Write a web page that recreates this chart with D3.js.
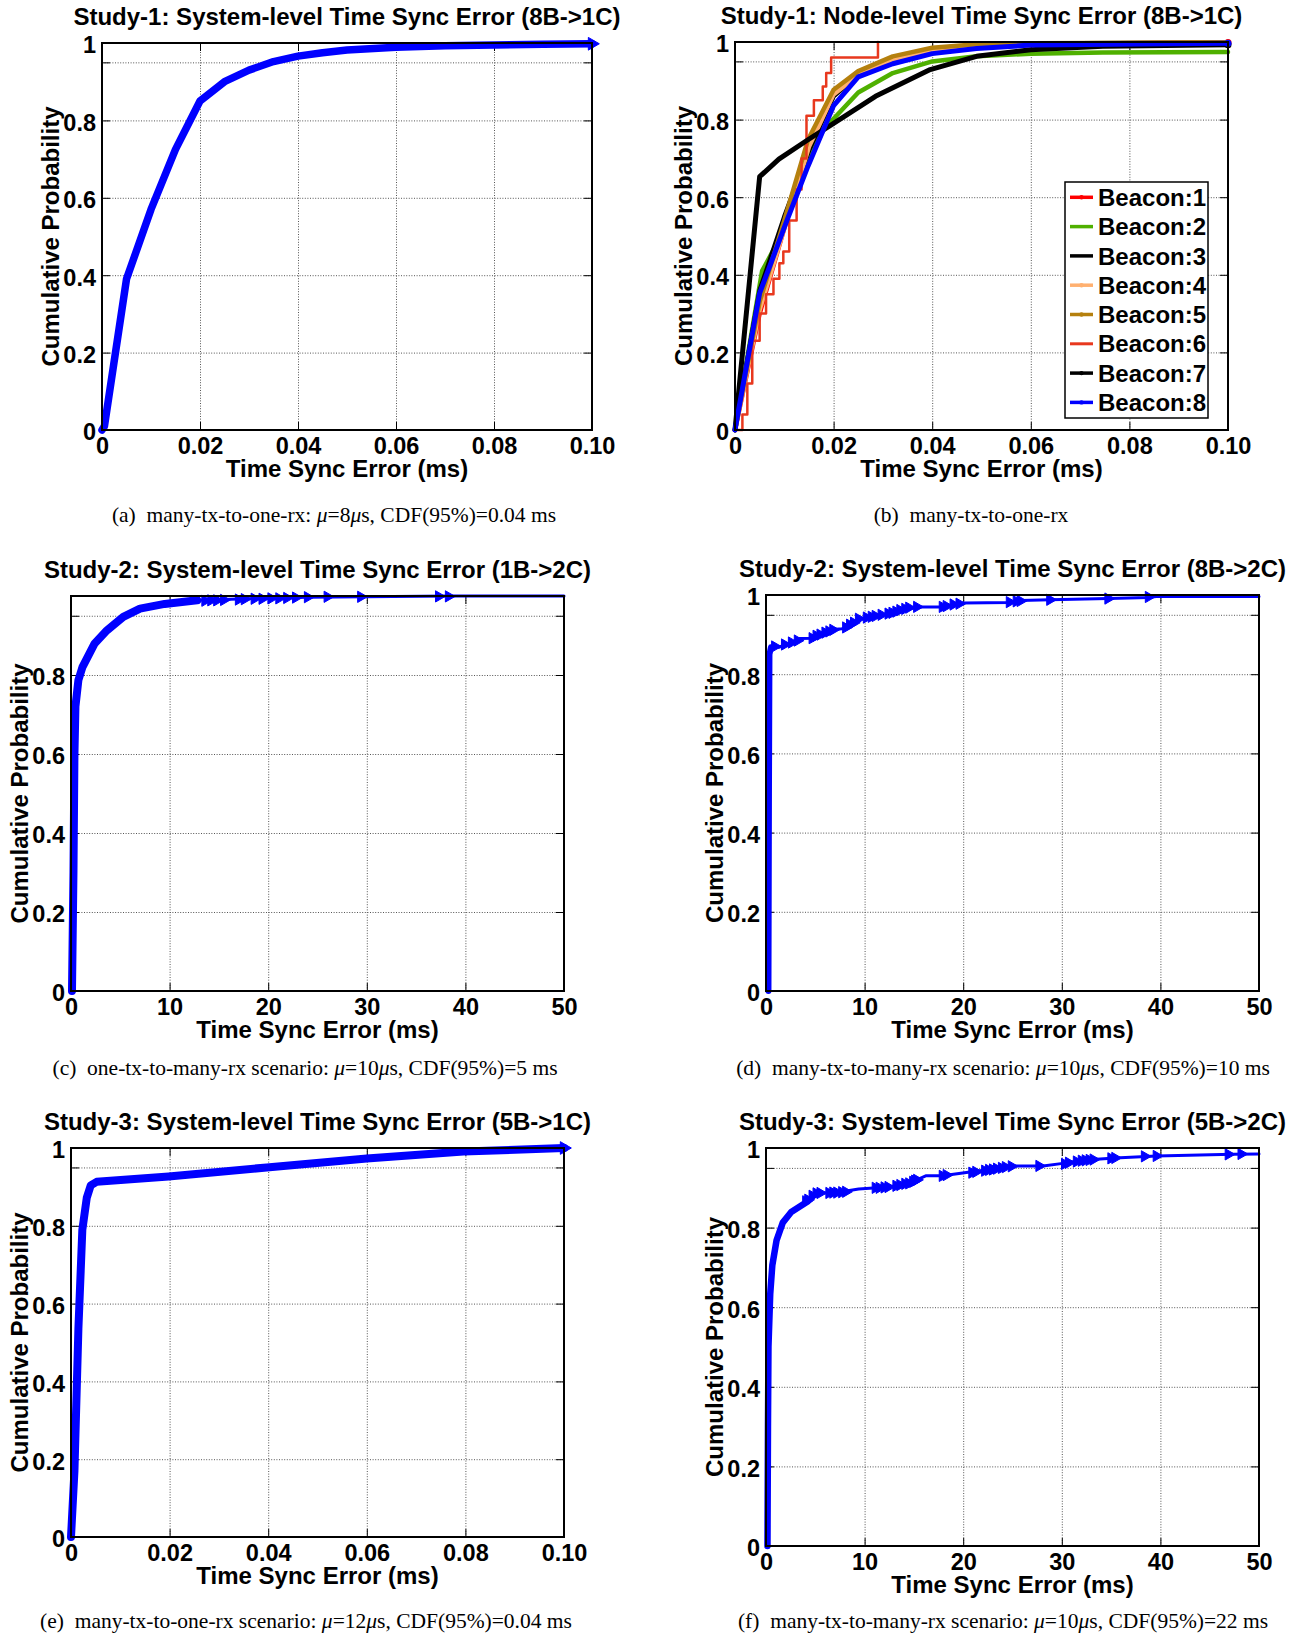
<!DOCTYPE html>
<html><head><meta charset="utf-8">
<script src="https://cdn.jsdelivr.net/npm/d3@7"></script>
<style>
body{margin:0;background:#fff;}
svg{display:block;}
.lbl{font-family:"Liberation Sans",Arial,Helvetica,sans-serif;font-weight:bold;fill:#000;}
.cap{font-family:"Liberation Serif","Times New Roman",serif;fill:#000;}
</style></head><body>
<svg id="fig" width="1297" height="1635"></svg>
<script>
// ---------------- DATA ----------------
const fineTicks = [0, 0.02, 0.04, 0.06, 0.08, 0.10];
const fineTickLabels = ["0", "0.02", "0.04", "0.06", "0.08", "0.10"];
const coarseTicks = [0, 10, 20, 30, 40, 50];
const coarseTickLabels = ["0", "10", "20", "30", "40", "50"];
const probTicks = [0, 0.2, 0.4, 0.6, 0.8, 0.95, 1];
const probTickLabels = ["0", "0.2", "0.4", "0.6", "0.8", "", "1"];
const probTickLabelsNoTop = ["0", "0.2", "0.4", "0.6", "0.8", "", ""];

const titles = [
  "Study-1: System-level Time Sync Error (8B->1C)",
  "Study-1: Node-level Time Sync Error (8B->1C)",
  "Study-2: System-level Time Sync Error (1B->2C)",
  "Study-2: System-level Time Sync Error (8B->2C)",
  "Study-3: System-level Time Sync Error (5B->1C)",
  "Study-3: System-level Time Sync Error (5B->2C)"
];
const xLabel = "Time Sync Error (ms)";
const yLabel = "Cumulative Probability";
const captionTags = ["(a)", "(b)", "(c)", "(d)", "(e)", "(f)"];
const captionParts = [
  ["many-tx-to-one-rx: ", "μ", "=8", "μ", "s, CDF(95%)=0.04 ms"],
  ["many-tx-to-one-rx"],
  ["one-tx-to-many-rx scenario: ", "μ", "=10", "μ", "s, CDF(95%)=5 ms"],
  ["many-tx-to-many-rx scenario: ", "μ", "=10", "μ", "s, CDF(95%)=10 ms"],
  ["many-tx-to-one-rx scenario: ", "μ", "=12", "μ", "s, CDF(95%)=0.04 ms"],
  ["many-tx-to-many-rx scenario: ", "μ", "=10", "μ", "s, CDF(95%)=22 ms"]
];

// (a) Study-1 system level
const study1System = [[0,0],[0.0005,0.01],[0.005,0.39],[0.01,0.57],[0.015,0.725],[0.02,0.85],[0.025,0.9],[0.03,0.93],[0.035,0.952],[0.04,0.966],[0.045,0.975],[0.05,0.982],[0.06,0.989],[0.07,0.993],[0.08,0.995],[0.09,0.997],[0.1,0.998]];
const study1SystemMarkers = [[0.1,0.998]];

// (b) Study-1 node level
const beaconNames = ["Beacon:1","Beacon:2","Beacon:3","Beacon:4","Beacon:5","Beacon:6","Beacon:7","Beacon:8"];
const beaconColors = ["#ff0000","#4fb000","#000000","#ffb070","#b5800e","#e8381e","#000000","#0000ff"];
const beacon1 = [[0,0],[0.005,0.3],[0.01,0.52],[0.015,0.74],[0.02,0.87],[0.025,0.92],[0.03,0.95],[0.04,0.975],[0.05,0.988],[0.07,0.996],[0.1,0.999]];
const beacon2 = [[0,0],[0.0055,0.41],[0.0089,0.49],[0.012,0.6],[0.015,0.7],[0.018,0.775],[0.025,0.87],[0.032,0.92],[0.04,0.95],[0.049,0.963],[0.06,0.97],[0.0746,0.973],[0.1,0.974]];
const beacon3 = [[0,0],[0.005,0.36],[0.01,0.55],[0.015,0.72],[0.02,0.86],[0.025,0.915],[0.03,0.945],[0.04,0.975],[0.05,0.99],[0.07,0.997],[0.1,0.999]];
const beacon4 = [[0,0],[0.005,0.31],[0.01,0.52],[0.015,0.73],[0.02,0.865],[0.025,0.915],[0.032,0.955],[0.04,0.98],[0.05,0.99],[0.07,0.996],[0.1,0.998]];
const beacon5 = [[0,0],[0.005,0.33],[0.01,0.54],[0.0148,0.748],[0.02,0.877],[0.025,0.925],[0.032,0.963],[0.04,0.985],[0.049,0.994],[0.06,0.997],[0.1,0.999]];
const beacon6 = [[0,0],[0.0015,0.04],[0.0025,0.12],[0.0035,0.23],[0.005,0.3],[0.0063,0.35],[0.0078,0.39],[0.009,0.43],[0.0098,0.46],[0.011,0.54],[0.0125,0.62],[0.0135,0.7],[0.0145,0.81],[0.016,0.85],[0.0178,0.885],[0.0185,0.92],[0.0195,0.96],[0.029,1.0]];
const beacon7 = [[0,0],[0.005,0.653],[0.0089,0.698],[0.0148,0.748],[0.02,0.79],[0.0285,0.86],[0.0396,0.929],[0.049,0.963],[0.06,0.98],[0.0746,0.989],[0.1,0.993]];
const beacon8 = [[0,0],[0.005,0.353],[0.0106,0.542],[0.0148,0.68],[0.02,0.836],[0.025,0.91],[0.032,0.944],[0.04,0.97],[0.049,0.983],[0.06,0.992],[0.1,0.997]];

// (c) Study-2 1B->2C
const study2OneB = [[0.1,0],[0.25,0.3],[0.35,0.6],[0.45,0.72],[0.75,0.787],[1.16,0.82],[2.4,0.88],[3.65,0.913],[5.3,0.947],[7,0.968],[9.5,0.98],[12.8,0.989],[17.8,0.993],[24,0.997],[38.5,1.0],[50,1.0]];
const study2OneBMarkers = [[13.6,0.988],[14.2,0.989],[14.8,0.989],[15.5,0.99],[17,0.991],[17.6,0.992],[18.6,0.993],[19.4,0.993],[20.3,0.994],[21.1,0.994],[21.9,0.995],[22.8,0.996],[24,0.997],[26,0.998],[29.4,0.998],[37.3,0.999],[38.3,0.999]];

// (d) Study-2 8B->2C
const study2EightB = [[0.25,0],[0.3,0.5],[0.35,0.85],[0.5,0.868],[1.3,0.868],[2.6,0.88],[3.4,0.89],[4.7,0.891],[5.1,0.895],[6.8,0.913],[7.7,0.915],[8.5,0.92],[9.4,0.94],[11.1,0.946],[12.8,0.955],[14.5,0.966],[15.3,0.97],[17.9,0.97],[18.8,0.975],[20,0.98],[24.7,0.981],[25.8,0.986],[28.8,0.988],[34.7,0.991],[38.8,0.994],[39.6,0.996],[50,0.996]];
const study2EightBMarkers = [[0.9,0.87],[1.9,0.875],[2.6,0.88],[3.2,0.885],[4.7,0.891],[5.1,0.897],[5.5,0.9],[6.0,0.905],[6.4,0.908],[6.8,0.912],[8.1,0.918],[8.5,0.925],[8.9,0.93],[9.4,0.94],[10.2,0.943],[10.7,0.945],[11.1,0.947],[11.7,0.95],[12.4,0.953],[12.8,0.955],[13.2,0.958],[13.6,0.962],[14.1,0.965],[14.5,0.968],[15.3,0.97],[17.9,0.97],[18.3,0.972],[19.0,0.976],[19.6,0.978],[24.7,0.982],[25.4,0.984],[25.8,0.985],[28.8,0.988],[34.7,0.991],[38.8,0.995]];

// (e) Study-3 5B->1C
const study3OneC = [[0,0],[0.0007,0.17],[0.0015,0.535],[0.0023,0.79],[0.0032,0.872],[0.004,0.904],[0.0052,0.913],[0.0198,0.927],[0.0397,0.95],[0.06,0.973],[0.0796,0.991],[0.1,1.0]];
const study3OneCMarkers = [[0.1,1.0]];

// (f) Study-3 5B->2C
const study3TwoC = [[0.15,0],[0.2,0.3],[0.25,0.5],[0.43,0.634],[0.64,0.705],[1.07,0.768],[1.7,0.8125],[2.56,0.839],[4.26,0.866],[5.1,0.886],[7.2,0.888],[9.4,0.897],[12.4,0.902],[14.5,0.911],[16.2,0.93],[17.9,0.93],[20.5,0.939],[23.9,0.95],[25.1,0.955],[28.1,0.955],[30.3,0.962],[32,0.969],[35.4,0.975],[39.6,0.98],[47.3,0.984],[50,0.985]];
const study3TwoCMarkers = [[4.05,0.866],[4.26,0.87],[4.7,0.88],[5.1,0.886],[5.5,0.887],[6.4,0.887],[6.8,0.888],[7.2,0.888],[7.7,0.889],[8.1,0.89],[11.1,0.9],[11.5,0.9],[12.0,0.901],[12.4,0.902],[13.2,0.905],[13.6,0.907],[14.1,0.91],[14.5,0.911],[14.9,0.915],[15.1,0.918],[15.3,0.92],[17.9,0.93],[18.3,0.932],[20.9,0.938],[21.3,0.94],[22.2,0.943],[22.6,0.945],[23.0,0.946],[23.4,0.948],[23.9,0.95],[24.3,0.952],[24.9,0.954],[27.7,0.955],[30.3,0.96],[30.7,0.963],[31.5,0.966],[32.0,0.968],[32.4,0.969],[32.8,0.97],[33.2,0.971],[35.0,0.974],[35.4,0.975],[38.4,0.979],[39.6,0.98],[46.9,0.984],[48.2,0.985]];

// ---------------- LAYOUT ----------------
const layouts = [
  {left:102, right:592, top:43, bottom:430, capX:334, capY:522},
  {left:735, right:1228, top:42, bottom:430, capX:971, capY:522},
  {left:71, right:564, top:596, bottom:991, capX:305, capY:1075},
  {left:766, right:1259, top:595, bottom:991, capX:1003, capY:1075},
  {left:71, right:564, top:1148, bottom:1537, capX:306, capY:1628},
  {left:766, right:1259, top:1148, bottom:1546, capX:1003, capY:1628}
];
const FS = 24;      // titles / axis labels
const TFS = 23.5;   // tick labels
const CFS = 21.5;   // captions
const svg = d3.select("#fig");

function drawPanel(i, opts) {
  const L = layouts[i];
  const x = d3.scaleLinear().domain(opts.xDomain).range([L.left, L.right]);
  const y = d3.scaleLinear().domain([0, 1]).range([L.bottom, L.top]);
  const w = L.right - L.left, h = L.bottom - L.top;
  const g = svg.append("g");

  // grid
  const gx = g.append("g").attr("transform", `translate(0,${L.bottom})`)
    .call(d3.axisBottom(x).tickValues(opts.xTicks.slice(1, -1)).tickSize(-h).tickFormat(""));
  const gy = g.append("g").attr("transform", `translate(${L.left},0)`)
    .call(d3.axisLeft(y).tickValues(probTicks.filter(v => v > 0 && v < 1)).tickSize(-w).tickFormat(""));
  [gx, gy].forEach(s => {
    s.select(".domain").remove();
    s.selectAll("line").attr("stroke", "#555").attr("stroke-width", 1).attr("stroke-dasharray", "1,1.6");
  });

  // inward tick marks on all 4 sides
  const tk = 8;
  const tb = g.append("g").attr("transform", `translate(0,${L.bottom})`).call(d3.axisBottom(x).tickValues(opts.xTicks).tickSize(-tk).tickFormat(""));
  const tt = g.append("g").attr("transform", `translate(0,${L.top})`).call(d3.axisTop(x).tickValues(opts.xTicks).tickSize(-tk).tickFormat(""));
  const tl = g.append("g").attr("transform", `translate(${L.left},0)`).call(d3.axisLeft(y).tickValues(probTicks).tickSize(-tk).tickFormat(""));
  const tr = g.append("g").attr("transform", `translate(${L.right},0)`).call(d3.axisRight(y).tickValues(probTicks).tickSize(-tk).tickFormat(""));
  [tb, tt, tl, tr].forEach(s => { s.select(".domain").remove(); s.selectAll("line").attr("stroke", "#000").attr("stroke-width", 1); });

  // tick labels
  const lx = g.append("g").attr("transform", `translate(0,${L.bottom})`)
    .call(d3.axisBottom(x).tickValues(opts.xTicks).tickSize(0).tickPadding(7).tickFormat((d, k) => opts.xTickLabels[k]));
  const ly = g.append("g").attr("transform", `translate(${L.left},0)`)
    .call(d3.axisLeft(y).tickValues(probTicks).tickSize(0).tickPadding(6).tickFormat((d, k) => opts.yTickLabels[k]));
  [lx, ly].forEach(s => {
    s.select(".domain").remove();
    s.selectAll("text").attr("class", "lbl").attr("font-size", TFS).attr("font-family", null);
  });
  ly.selectAll("text").attr("dy", "0.42em");

  // series
  const line = d3.line().x(d => x(d[0])).y(d => y(d[1]));
  opts.series.forEach(s => {
    const gen = s.step ? d3.line().x(d => x(d[0])).y(d => y(d[1])).curve(d3.curveStepAfter) : line;
    if (s.thickUntil !== undefined) {
      g.append("path").datum(s.data.filter(d => d[0] <= s.thickUntil))
        .attr("d", gen).attr("fill", "none").attr("stroke", s.color)
        .attr("stroke-width", s.thickWidth).attr("stroke-linejoin", "round").attr("stroke-linecap", "round");
    }
    g.append("path").datum(s.data).attr("d", gen).attr("fill", "none")
      .attr("stroke", s.color).attr("stroke-width", s.width)
      .attr("stroke-linejoin", "round").attr("stroke-linecap", "round");
    if (s.markers) {
      const sym = d3.symbol().type(d3.symbolTriangle).size(s.markerSize || 55);
      g.selectAll(null).data(s.markers).enter().append("path")
        .attr("d", sym).attr("fill", s.color).attr("stroke", s.color).attr("stroke-width", 1)
        .attr("transform", d => `translate(${x(d[0])},${y(d[1])}) rotate(90)`);
    }
    if (s.dots) {
      g.selectAll(null).data(s.data.slice(-1)).enter().append("circle")
        .attr("cx", d => x(d[0])).attr("cy", d => y(d[1])).attr("r", 3.5).attr("fill", s.color);
    }
  });

  // box
  g.append("rect").attr("x", L.left).attr("y", L.top).attr("width", w).attr("height", h)
    .attr("fill", "none").attr("stroke", "#000").attr("stroke-width", 2);

  // title & axis labels
  const cx = (L.left + L.right) / 2, cy = (L.top + L.bottom) / 2;
  g.append("text").attr("class", "lbl").attr("font-size", FS).attr("text-anchor", "middle")
    .attr("x", cx).attr("y", L.top - 18).text(titles[i]);
  g.append("text").attr("class", "lbl").attr("font-size", FS).attr("text-anchor", "middle")
    .attr("x", cx).attr("y", L.bottom + 47).text(xLabel);
  g.append("text").attr("class", "lbl").attr("font-size", FS).attr("text-anchor", "middle")
    .attr("transform", `translate(${L.left - 43},${cy}) rotate(-90)`).text(yLabel);

  // caption
  const cap = svg.append("text").attr("class", "cap").attr("font-size", CFS)
    .attr("text-anchor", "middle").attr("x", L.capX).attr("y", L.capY);
  cap.append("tspan").text(captionTags[i] + "\u00a0\u00a0");
  captionParts[i].forEach(p => {
    const t = cap.append("tspan").text(p);
    if (p === "μ") t.attr("font-style", "italic");
  });

  return {x, y, g};
}

// (a)
drawPanel(0, {xDomain:[0,0.1], xTicks:fineTicks, xTickLabels:fineTickLabels, yTickLabels:probTickLabels,
  series:[{data:study1System, color:"#0000ff", width:7.5, markers:study1SystemMarkers, markerSize:70}]});

// (b)
const beacons = [beacon1, beacon2, beacon3, beacon4, beacon5, beacon6, beacon7, beacon8];
const beaconWidths = [4.5, 4.5, 4.5, 4.5, 4.5, 2.5, 5, 5];
drawPanel(1, {xDomain:[0,0.1], xTicks:fineTicks, xTickLabels:fineTickLabels, yTickLabels:probTickLabels,
  series: beacons.map((d, k) => ({data:d, color:beaconColors[k], width:beaconWidths[k], step:k === 5, dots:(k === 0 || k === 6 || k === 7)}))});

// legend
{
  const lg = svg.append("g");
  const lx0 = 1065, ly0 = 182, lw = 143, lh = 236, rowH = 29.3, firstRow = 197.3;
  lg.append("rect").attr("x", lx0).attr("y", ly0).attr("width", lw).attr("height", lh)
    .attr("fill", "#fff").attr("stroke", "#000").attr("stroke-width", 1.5);
  beaconNames.forEach((n, k) => {
    const yy = firstRow + k * rowH;
    lg.append("line").attr("x1", 1070).attr("x2", 1093).attr("y1", yy).attr("y2", yy)
      .attr("stroke", beaconColors[k]).attr("stroke-width", k === 5 ? 3 : 3.5);
    if (k === 0 || k === 3 || k === 4 || k === 6 || k === 7)
      lg.append("circle").attr("cx", 1081.5).attr("cy", yy).attr("r", 2.2).attr("fill", beaconColors[k]);
    lg.append("text").attr("class", "lbl").attr("font-size", FS).attr("x", 1098).attr("y", yy).attr("dy", "0.36em").text(n);
  });
}

// (c)
drawPanel(2, {xDomain:[0,50], xTicks:coarseTicks, xTickLabels:coarseTickLabels, yTickLabels:probTickLabelsNoTop,
  series:[{data:study2OneB, color:"#0000ff", width:3, thickUntil:12.8, thickWidth:8, markers:study2OneBMarkers, markerSize:55}]});

// (d)
drawPanel(3, {xDomain:[0,50], xTicks:coarseTicks, xTickLabels:coarseTickLabels, yTickLabels:probTickLabels,
  series:[{data:study2EightB, color:"#0000ff", width:3, thickUntil:0.5, thickWidth:6, markers:study2EightBMarkers, markerSize:55}]});

// (e)
drawPanel(4, {xDomain:[0,0.1], xTicks:fineTicks, xTickLabels:fineTickLabels, yTickLabels:probTickLabels,
  series:[{data:study3OneC, color:"#0000ff", width:8, markers:study3OneCMarkers, markerSize:70}]});

// (f)
drawPanel(5, {xDomain:[0,50], xTicks:coarseTicks, xTickLabels:coarseTickLabels, yTickLabels:probTickLabels,
  series:[{data:study3TwoC, color:"#0000ff", width:3, thickUntil:4.3, thickWidth:6.5, markers:study3TwoCMarkers, markerSize:55}]});
</script>
</body></html>
